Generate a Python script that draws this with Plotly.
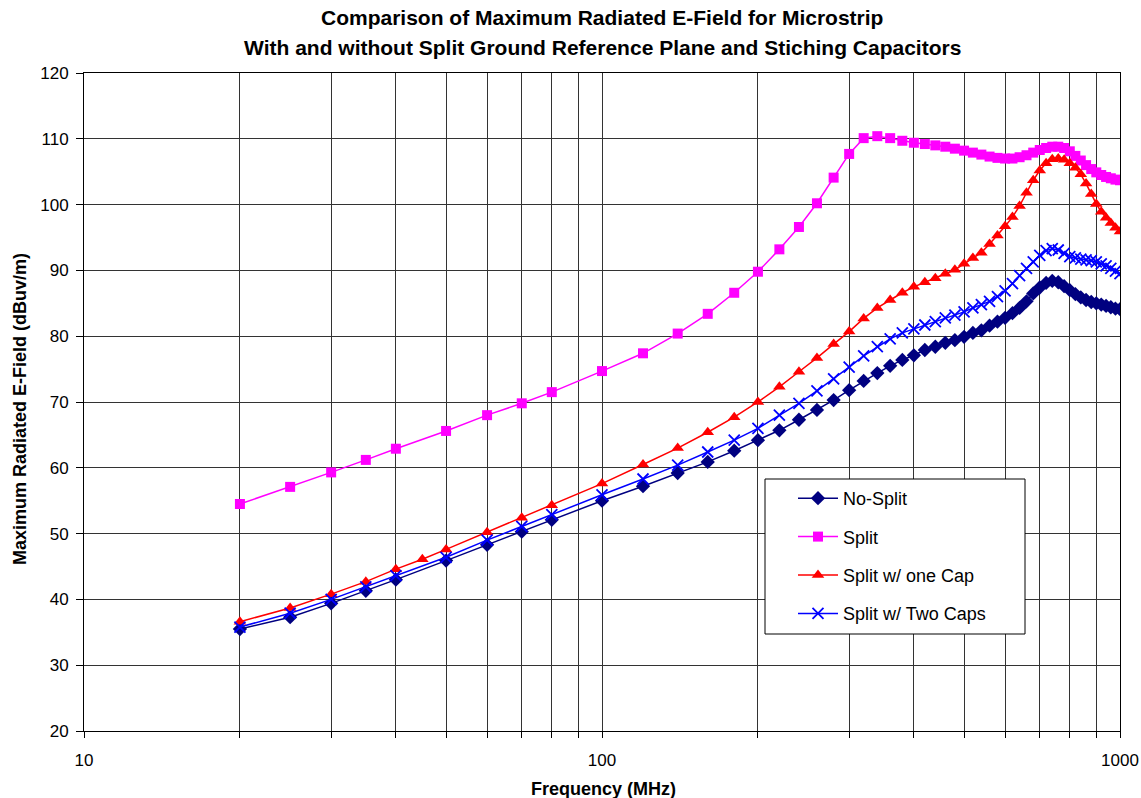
import plotly.graph_objects as go

freq = [20, 25, 30, 35, 40, 50, 60, 70, 80, 100,
        120, 140, 160, 180, 200, 220, 240, 260, 280, 300,
        320, 340, 360, 380, 400, 420, 440, 460, 480, 500,
        520, 540, 560, 580, 600, 620, 640, 660, 680, 700,
        720, 740, 760, 780, 800, 820, 840, 860, 880, 900,
        920, 940, 960, 980, 1000]

freq_one_cap = [20, 25, 30, 35, 40, 45, 50, 60, 70, 80, 100,
                120, 140, 160, 180, 200, 220, 240, 260, 280, 300,
                320, 340, 360, 380, 400, 420, 440, 460, 480, 500,
                520, 540, 560, 580, 600, 620, 640, 660, 680, 700,
                720, 740, 760, 780, 800, 820, 840, 860, 880, 900,
                920, 940, 960, 980, 1000]

no_split = [35.5, 37.3, 39.4, 41.3, 43.0, 45.9, 48.3, 50.3, 52.1, 55.0,
            57.2, 59.2, 60.9, 62.6, 64.2, 65.7, 67.3, 68.8, 70.3, 71.8,
            73.2, 74.4, 75.5, 76.4, 77.1, 77.9, 78.4, 79.0, 79.4, 79.9,
            80.5, 80.9, 81.6, 82.2, 82.8, 83.5, 84.3, 85.3, 86.5, 87.4,
            88.1, 88.4, 88.2, 87.6, 87.0, 86.4, 85.9, 85.5, 85.2, 85.0,
            84.8, 84.6, 84.4, 84.2, 84.1]

split = [54.5, 57.1, 59.3, 61.2, 62.9, 65.6, 68.0, 69.8, 71.5, 74.7,
         77.4, 80.4, 83.4, 86.6, 89.8, 93.2, 96.6, 100.2, 104.1, 107.7,
         110.1, 110.4, 110.1, 109.7, 109.4, 109.2, 109.0, 108.8, 108.5, 108.2,
         107.9, 107.6, 107.3, 107.1, 107.0, 107.0, 107.2, 107.5, 107.9, 108.3,
         108.6, 108.8, 108.8, 108.6, 108.1, 107.4, 106.7, 106.0, 105.4, 104.9,
         104.5, 104.2, 104.0, 103.8, 103.7]

split_one_cap = [36.6, 38.7, 40.8, 42.7, 44.6, 46.1, 47.6, 50.2, 52.4, 54.3, 57.6,
                 60.5, 63.0, 65.4, 67.7, 70.0, 72.3, 74.6, 76.7, 78.8, 80.7,
                 82.7, 84.3, 85.5, 86.6, 87.5, 88.2, 88.8, 89.5, 90.1, 91.0,
                 91.9, 92.7, 94.0, 95.3, 96.7, 98.1, 99.8, 101.8, 103.7, 105.2,
                 106.3, 106.9, 107.0, 106.8, 106.3, 105.6, 104.6, 103.2, 101.6, 100.1,
                 98.9, 98.0, 97.2, 96.5, 95.9]

split_two_caps = [35.8, 37.9, 40.0, 41.9, 43.6, 46.4, 49.0, 51.1, 52.9, 55.9,
                  58.3, 60.4, 62.4, 64.2, 66.0, 68.0, 69.8, 71.7, 73.5, 75.3,
                  77.0, 78.4, 79.6, 80.5, 81.1, 81.7, 82.2, 82.8, 83.2, 83.7,
                  84.3, 84.8, 85.3, 86.0, 86.9, 88.0, 89.2, 90.3, 91.3, 92.3,
                  93.0, 93.3, 93.1, 92.6, 92.1, 91.9, 91.7, 91.6, 91.5, 91.3,
                  91.0, 90.7, 90.3, 89.9, 89.5]

x_tickvals = [10, 20, 30, 40, 50, 60, 70, 80, 90, 100,
              200, 300, 400, 500, 600, 700, 800, 900, 1000]
x_ticktext = ["10", "", "", "", "", "", "", "", "", "100",
              "", "", "", "", "", "", "", "", "1000"]
y_tickvals = [20, 30, 40, 50, 60, 70, 80, 90, 100, 110, 120]

FONT = "Liberation Sans, Arial, sans-serif"
W, H = 1141, 798
ML, MR, MT, MB = 84, 21, 73, 67
PW, PH = W - ML - MR, H - MT - MB


def px(x):
    return (x - ML) / PW


def py(y):
    return (H - MB - y) / PH


fig = go.Figure()
fig.add_trace(go.Scatter(
    x=freq, y=no_split, name="No-Split", mode="lines+markers", legendgroup="a",
    line=dict(color="#000080", width=1.5),
    marker=dict(symbol="diamond", size=11, color="#000080")))
fig.add_trace(go.Scatter(
    x=freq, y=split, name="Split", mode="lines+markers", legendgroup="b",
    line=dict(color="#FF00FF", width=1.5),
    marker=dict(symbol="square", size=10, color="#FF00FF")))
fig.add_trace(go.Scatter(
    x=freq_one_cap, y=split_one_cap, name="Split w/ one Cap", mode="lines+markers", legendgroup="c",
    line=dict(color="#FF0000", width=1.5),
    marker=dict(symbol="triangle-up", size=11, color="#FF0000")))
fig.add_trace(go.Scatter(
    x=freq, y=split_two_caps, name="Split w/ Two Caps", mode="lines+markers", legendgroup="d",
    line=dict(color="#0000FF", width=1.5),
    marker=dict(symbol="x-thin", size=11, color="#0000FF",
                line=dict(color="#0000FF", width=1.8))))

fig.update_layout(
    width=W, height=H,
    margin=dict(l=ML, r=MR, t=MT, b=MB),
    paper_bgcolor="white", plot_bgcolor="white",
    font=dict(family=FONT, size=17, color="black"),
    showlegend=True,
    legend=dict(x=px(793), y=py(480), xanchor="left", yanchor="top",
                bgcolor="rgba(0,0,0,0)", borderwidth=0,
                font=dict(size=18), tracegroupgap=12,
                itemwidth=40),
    shapes=[
        dict(type="rect", xref="paper", yref="paper",
             x0=px(765), x1=px(1025), y0=py(634), y1=py(479),
             line=dict(color="black", width=1), fillcolor="white", layer="above"),
    ],
    annotations=[
        dict(text="<b>Comparison of Maximum Radiated E-Field for Microstrip</b>",
             x=px(602), y=py(18), font=dict(size=21)),
        dict(text="<b>With and without Split Ground Reference Plane and Stiching Capacitors</b>",
             x=px(602), y=py(47), font=dict(size=21)),
        dict(text="<b>Frequency (MHz)</b>", x=px(603), y=py(789), font=dict(size=18)),
        dict(text="<b>Maximum Radiated E-Field (dBuv/m)</b>", x=px(20), y=py(409),
             textangle=-90, font=dict(size=18)),
    ],
)
for a in fig.layout.annotations:
    a.xref = "paper"
    a.yref = "paper"
    a.showarrow = False
    a.xanchor = "center"
    a.yanchor = "middle"

fig.update_xaxes(
    type="log", range=[1, 3], automargin=False,
    tickvals=x_tickvals, ticktext=x_ticktext,
    showgrid=True, gridcolor="#333333", gridwidth=1,
    showline=True, linecolor="black", linewidth=1, mirror=True,
    ticks="outside", ticklen=6, tickcolor="black", ticklabelstandoff=8,
    tickfont=dict(size=17), zeroline=False,
)
fig.update_yaxes(
    range=[20, 120], tickvals=y_tickvals, automargin=False,
    showgrid=True, gridcolor="#333333", gridwidth=1,
    showline=True, linecolor="black", linewidth=1, mirror=True,
    ticks="outside", ticklen=7, tickcolor="black", ticklabelstandoff=4,
    tickfont=dict(size=17), zeroline=False,
)

fig.write_html("out.html")
